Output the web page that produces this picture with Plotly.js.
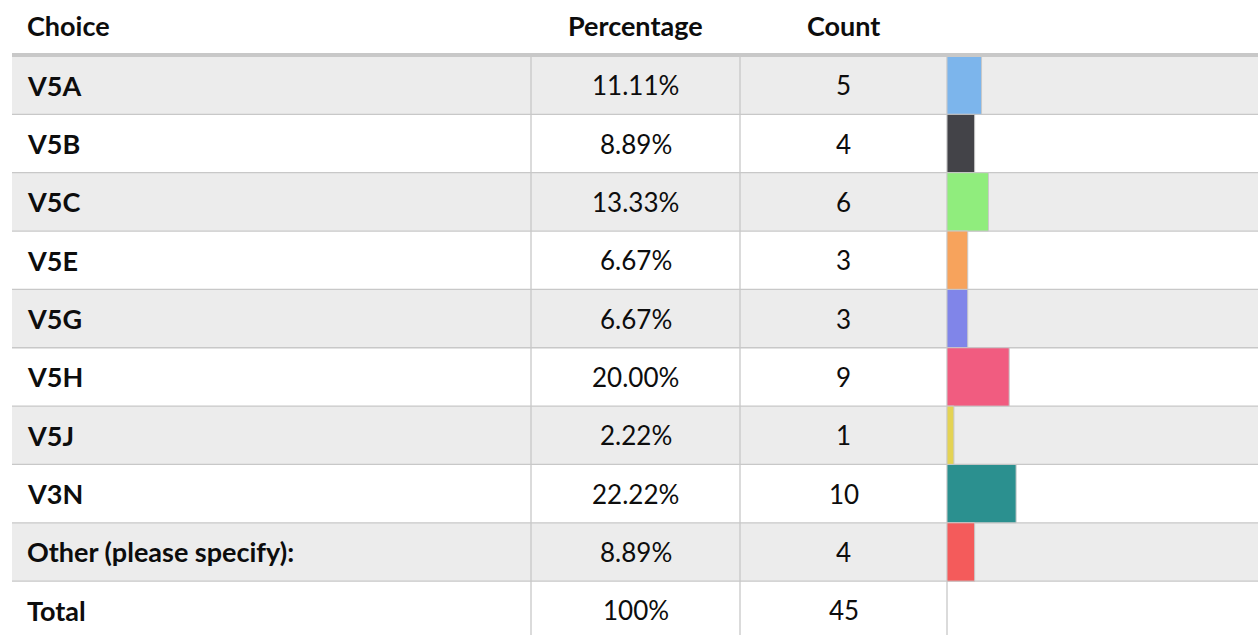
<!DOCTYPE html>
<html>
<head>
<meta charset="utf-8">
<script src="https://cdn.plot.ly/plotly-3.0.1.min.js"></script>
<style>html,body{margin:0;padding:0;background:#fff;}#chart{width:1258px;height:635px;}</style>
</head>
<body>
<div id="chart"></div>
<script>
const headers = ["Choice", "Percentage", "Count"];
const choices = ["V5A", "V5B", "V5C", "V5E", "V5G", "V5H", "V5J", "V3N", "Other (please specify):"];
const percentages = [11.11, 8.89, 13.33, 6.67, 6.67, 20.00, 2.22, 22.22, 8.89];
const percentLabels = ["11.11%", "8.89%", "13.33%", "6.67%", "6.67%", "20.00%", "2.22%", "22.22%", "8.89%"];
const counts = [5, 4, 6, 3, 3, 9, 1, 10, 4];
const colors = ["#7cb5ec", "#434348", "#90ed7d", "#f7a35c", "#8085e9", "#f15c80", "#e4d354", "#2b908f", "#f45b5b"];
const totalLabel = "Total";
const totalPercent = "100%";
const totalCount = 45;

const W = 1258, H = 635;
const px = v => v / W;
const py = v => 1 - v / H;
const FONT = "Lato, 'Open Sans', sans-serif";
const LINE = "#c8c8c8";
const SHADE = "#ececec";
const TXT = "#0d0d0d";
const BOLD_SIZE = 27, REG_SIZE = 26;
const colLeft = 12, col2 = 531, col3 = 740, col4 = 947;
const headerBottom = 56;
const rowH = 58.35;

const rows = choices.concat([totalLabel]);
const nVisible = (H - headerBottom) / rowH;

const trace = {
  type: "bar",
  orientation: "h",
  y: choices,
  x: percentages,
  width: 1,
  marker: {color: colors, line: {color: LINE, width: 1}},
  hoverinfo: "skip",
  showlegend: false
};

const shapes = [];
const annotations = [];

choices.forEach((c, i) => {
  if (i % 2 === 0) {
    shapes.push({type: "rect", layer: "below", xref: "paper", yref: "y",
      x0: px(colLeft), x1: 1, y0: i - 0.5, y1: i + 0.5,
      fillcolor: SHADE, line: {width: 0}});
  }
});
choices.forEach((c, i) => {
  shapes.push({type: "line", layer: "below", xref: "paper", yref: "y",
    x0: px(colLeft), x1: 1, y0: i + 0.5, y1: i + 0.5,
    line: {color: LINE, width: 1.3}});
});
[col2, col3, col4].forEach(x => {
  shapes.push({type: "line", layer: "below", xref: "paper", yref: "paper",
    x0: px(x), x1: px(x), y0: py(headerBottom), y1: 0,
    line: {color: LINE, width: 1.3}});
});
shapes.push({type: "line", layer: "above", xref: "paper", yref: "paper",
  x0: px(colLeft), x1: 1, y0: py(55), y1: py(55),
  line: {color: LINE, width: 4}});

const headerY = py(25);
annotations.push({xref: "paper", yref: "paper", x: px(25), y: headerY, xanchor: "left", yanchor: "middle",
  text: "<b>" + headers[0] + "</b>", showarrow: false, font: {family: FONT, size: BOLD_SIZE, color: TXT}});
annotations.push({xref: "paper", yref: "paper", x: px((col2 + col3) / 2), y: headerY, xanchor: "center", yanchor: "middle",
  text: "<b>" + headers[1] + "</b>", showarrow: false, font: {family: FONT, size: BOLD_SIZE, color: TXT}});
annotations.push({xref: "paper", yref: "paper", x: px((col3 + col4) / 2), y: headerY, xanchor: "center", yanchor: "middle",
  text: "<b>" + headers[2] + "</b>", showarrow: false, font: {family: FONT, size: BOLD_SIZE, color: TXT}});

const pctCol = percentLabels.concat([totalPercent]);
const cntCol = counts.concat([totalCount]);
rows.forEach((r, i) => {
  annotations.push({xref: "paper", yref: "y", x: px(25), y: i, xanchor: "left", yanchor: "middle",
    text: "<b>" + r + "</b>", showarrow: false, font: {family: FONT, size: BOLD_SIZE, color: TXT}});
  annotations.push({xref: "paper", yref: "y", x: px((col2 + col3) / 2), y: i, xanchor: "center", yanchor: "middle",
    text: pctCol[i], showarrow: false, font: {family: FONT, size: REG_SIZE, color: TXT}});
  annotations.push({xref: "paper", yref: "y", x: px((col3 + col4) / 2), y: i, xanchor: "center", yanchor: "middle",
    text: String(cntCol[i]), showarrow: false, font: {family: FONT, size: REG_SIZE, color: TXT}});
});

const layout = {
  width: W, height: H,
  margin: {l: 0, r: 0, t: 0, b: 0, pad: 0},
  paper_bgcolor: "#ffffff",
  plot_bgcolor: "rgba(0,0,0,0)",
  showlegend: false,
  bargap: 0,
  xaxis: {domain: [px(col4), 1], range: [0, 100], visible: false, fixedrange: true},
  yaxis: {domain: [0, py(headerBottom)], type: "category", categoryarray: rows, categoryorder: "array",
    range: [nVisible - 0.5, -0.5], visible: false, fixedrange: true},
  shapes: shapes,
  annotations: annotations
};

Plotly.newPlot("chart", [trace], layout, {staticPlot: true, displayModeBar: false});
</script>
</body>
</html>
